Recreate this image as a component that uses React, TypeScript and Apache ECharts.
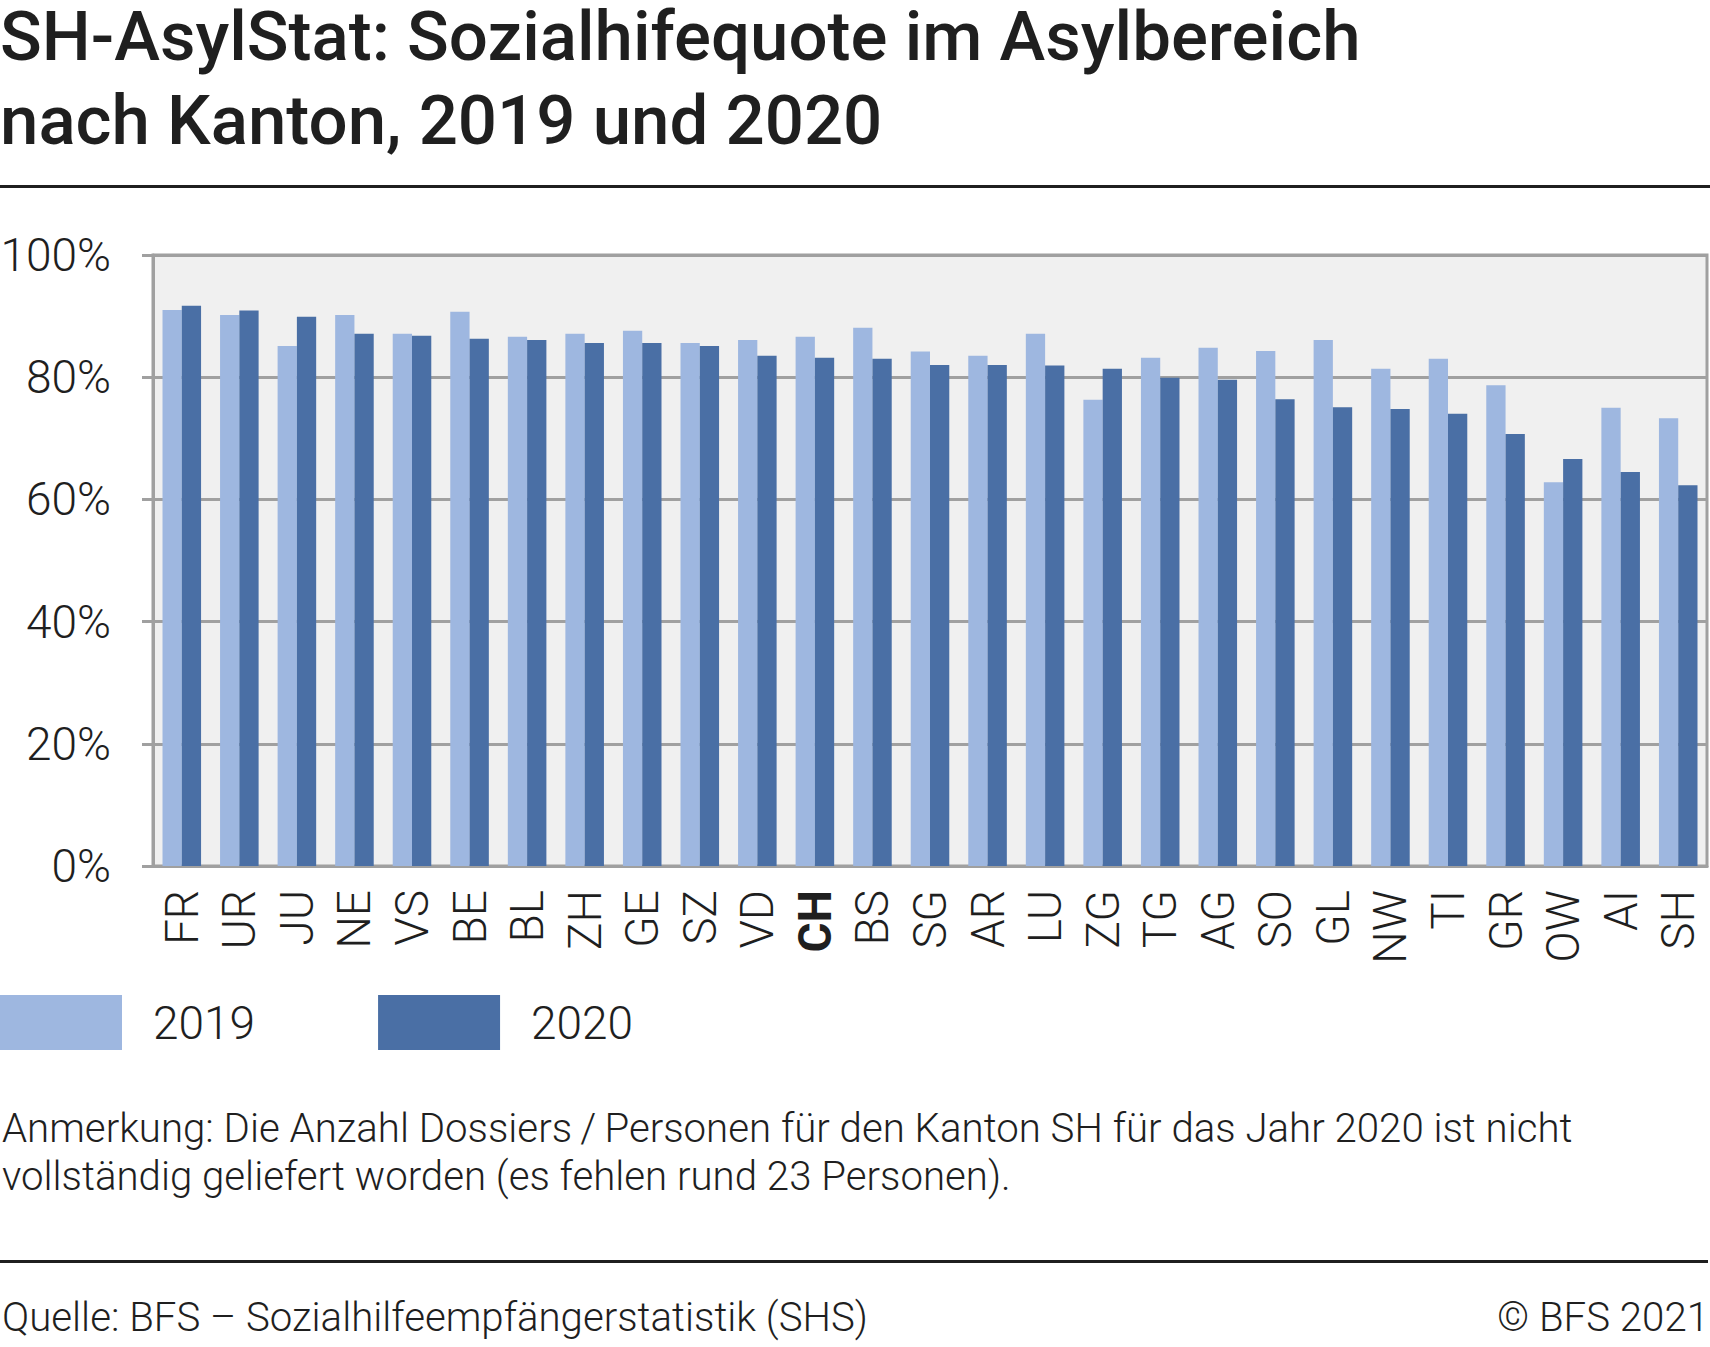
import React, { useEffect, useRef } from "react";
import * as echarts from "echarts";

const cantons = ["FR","UR","JU","NE","VS","BE","BL","ZH","GE","SZ","VD","CH","BS","SG","AR","LU","ZG","TG","AG","SO","GL","NW","TI","GR","OW","AI","SH"];
const values2019 = [91.0,90.2,85.1,90.2,87.1,90.7,86.6,87.1,87.6,85.6,86.1,86.6,88.1,84.2,83.5,87.1,76.3,83.2,84.8,84.3,86.1,81.4,83.0,78.7,62.8,75.0,73.3];
const values2020 = [91.7,90.9,89.9,87.1,86.8,86.3,86.1,85.6,85.6,85.1,83.5,83.2,83.0,82.0,82.0,81.9,81.4,79.9,79.6,76.4,75.1,74.8,74.0,70.7,66.6,64.5,62.3];
const seriesNames = ["2019", "2020"];
const yTicks = { min: 0, max: 100, interval: 20 };

const titleLines = ["SH-AsylStat: Sozialhifequote im Asylbereich", "nach Kanton, 2019 und 2020"];
const noteLines = [
  "Anmerkung: Die Anzahl Dossiers\u2009/\u2009Personen für den Kanton SH für das Jahr 2020 ist nicht",
  "vollständig geliefert worden (es fehlen rund 23 Personen).",
];
const sourceText = "Quelle: BFS – Sozialhilfeempfängerstatistik (SHS)";
const copyrightText = "© BFS 2021";

const FONT = "Roboto";
const INK = "#1f1f1f";
const GRID_GRAY = "#a0a0a0";

export default function App() {
  const ref = useRef<HTMLDivElement>(null);
  useEffect(() => {
    document.body.style.margin = "0";
    const chart = echarts.init(ref.current!, null, { renderer: "svg" });
    const off = (fs: number) => fs * 0.342;
    const TFS = 69;
    const NFS = 40.2;
    chart.setOption({
      animation: false,
      textStyle: { fontFamily: FONT },
      grid: {
        left: 153, top: 255, right: 3, bottom: 481,
        outerBoundsMode: "none", containLabel: false,
        show: true, backgroundColor: "#f0f0f0", borderColor: GRID_GRAY, borderWidth: 3,
      },
      legend: {
        data: seriesNames,
        left: 0, top: 995, padding: 0,
        itemWidth: 122, itemHeight: 55, itemGap: 123,
        icon: "rect",
        textStyle: { fontFamily: FONT, fontSize: 46, fontWeight: 300, color: INK, padding: [0, 0, 0, 26] },
      },
      xAxis: {
        type: "category",
        data: cantons,
        axisLine: { lineStyle: { color: GRID_GRAY, width: 3 } },
        axisTick: { show: false },
        axisLabel: {
          rotate: 90, margin: 24, fontSize: 46, fontWeight: 300, color: INK, fontFamily: FONT,
          interval: 0,
          formatter: (v: string) => (v === "CH" ? "{b|CH}" : v),
          rich: { b: { fontWeight: "bold", fontSize: 46, color: INK, fontFamily: FONT } },
        },
      },
      yAxis: {
        type: "value",
        min: yTicks.min, max: yTicks.max, interval: yTicks.interval,
        axisLine: { show: true, lineStyle: { color: GRID_GRAY, width: 3 } },
        axisTick: { show: true, length: 11, lineStyle: { color: GRID_GRAY, width: 3 } },
        splitLine: { lineStyle: { color: GRID_GRAY, width: 3 } },
        axisLabel: { formatter: "{value}%", fontSize: 46, fontWeight: 300, color: INK, margin: 42, fontFamily: FONT },
      },
      series: [
        { name: seriesNames[0], type: "bar", data: values2019, barGap: "0%", barCategoryGap: "33%", itemStyle: { color: "#9EB7E0" } },
        { name: seriesNames[1], type: "bar", data: values2020, barGap: "0%", barCategoryGap: "33%", itemStyle: { color: "#4A6FA5" } },
      ],
      graphic: [
        { type: "text", x: 0, y: 60 - off(TFS), style: { text: titleLines[0], fontFamily: FONT, fontSize: TFS, lineHeight: 62, fontWeight: 500, fill: INK, verticalAlign: "middle" } },
        { type: "text", x: 0, y: 144 - off(TFS), style: { text: titleLines[1], fontFamily: FONT, fontSize: TFS, lineHeight: 62, fontWeight: 500, fill: INK, verticalAlign: "middle" } },
        { type: "line", shape: { x1: 0, y1: 186.5, x2: 1710, y2: 186.5 }, style: { stroke: INK, lineWidth: 3 } },
        { type: "text", x: 2, y: 1142 - off(NFS), style: { text: noteLines[0], fontFamily: FONT, fontSize: NFS, fontWeight: 300, fill: INK, verticalAlign: "middle" } },
        { type: "text", x: 2, y: 1190 - off(NFS), style: { text: noteLines[1], fontFamily: FONT, fontSize: NFS, fontWeight: 300, fill: INK, verticalAlign: "middle" } },
        { type: "line", shape: { x1: 0, y1: 1261.5, x2: 1708, y2: 1261.5 }, style: { stroke: INK, lineWidth: 3 } },
        { type: "text", x: 2, y: 1331 - off(NFS), style: { text: sourceText, fontFamily: FONT, fontSize: NFS, fontWeight: 300, fill: INK, verticalAlign: "middle" } },
        { type: "text", x: 1709, y: 1331 - off(NFS), style: { text: copyrightText, fontFamily: FONT, fontSize: NFS, fontWeight: 300, fill: INK, verticalAlign: "middle", align: "right" } },
      ],
    });
    return () => chart.dispose();
  }, []);
  return <div ref={ref} style={{ width: 1710, height: 1347 }} />;
}
